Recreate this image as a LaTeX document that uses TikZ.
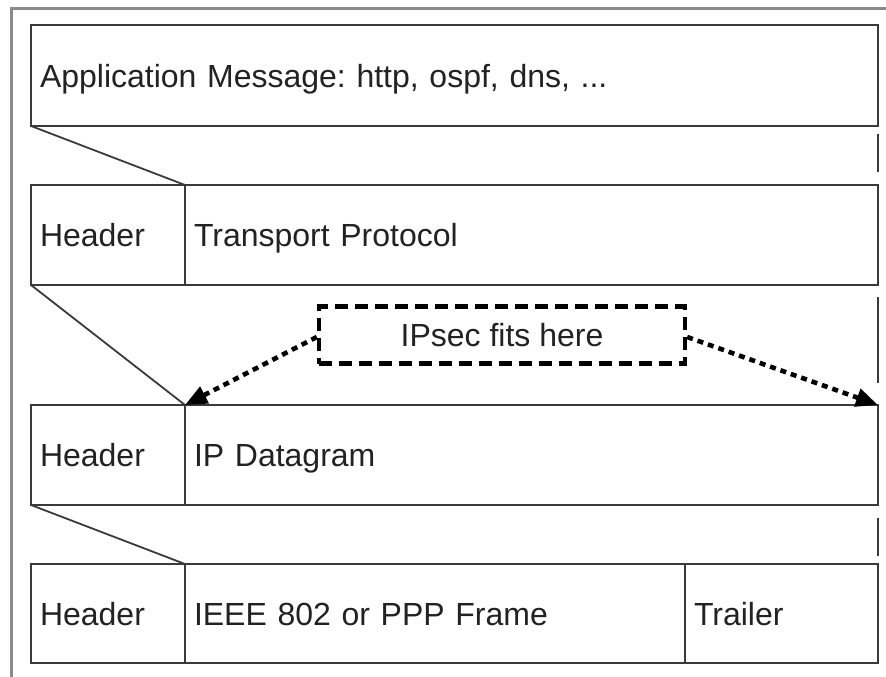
\documentclass[tikz,border=0pt]{standalone}
\usepackage{fontspec}
\setmainfont{Liberation Sans}
\usetikzlibrary{arrows.meta,calc}
\definecolor{boxline}{HTML}{3A3A3A}
\definecolor{framegray}{HTML}{8A8A8A}
\definecolor{txt}{HTML}{222222}
\tikzset{
    field/.style={draw=boxline,line width=1.8pt,minimum height=100pt,inner xsep=9pt,
        inner ysep=0pt,outer sep=0pt,anchor=north west,align=left,text=txt,
        text height=23pt,text depth=0pt},
    hdr/.style={field,text width=136pt},
    gap line/.style={draw=boxline,line width=1.8pt},
    ipsecbox/.style={draw=black,line width=4.4pt,dash pattern=on 13pt off 7pt,
        minimum width=366pt,minimum height=57pt,text=txt,text height=23pt,text depth=0pt},
    dotarrow/.style={black,line width=4.6pt,dash pattern=on 6pt off 5pt,
        -{Triangle[length=22pt,width=18pt]}}
}

\begin{document}
\begin{tikzpicture}[x=1pt,y=-1pt,font=\fontsize{32}{38}\selectfont\frenchspacing]
    \useasboundingbox (0,0) rectangle (886,677);
    \draw[framegray,line width=3pt] (11,677) -- (11,9) -- (886,9);

    \node[field,text width=829pt,minimum height=101pt] (app) at (31,25) {Application Message: http, ospf, dns, ...};

    \node[hdr] (hdrA) at (31,185) {Header};
    \node[field,text width=675pt] (tport) at (185,185) {Transport Protocol};

    \node[hdr] (hdrB) at (31,405) {Header};
    \node[field,text width=675pt] (ipdg) at (185,405) {IP Datagram};

    \node[hdr,minimum height=99pt] (hdrC) at (31,564) {Header};
    \node[field,text width=482pt,minimum height=99pt] (frame) at (185,564) {IEEE 802 or PPP Frame};
    \node[field,text width=175pt,minimum height=99pt] (trailer) at (685,564) {Trailer};

    \draw[gap line] (app.south west) -- (hdrA.north east);
    \draw[gap line] (hdrA.south west) -- (hdrB.north east);
    \draw[gap line] (hdrB.south west) -- (hdrC.north east);

    \draw[gap line] ([yshift=-8pt]app.south east) -- ([yshift=13pt]tport.north east);
    \draw[gap line] ([yshift=-12pt]tport.south east) -- ([yshift=22pt]ipdg.north east);
    \draw[gap line] ([yshift=-13pt]ipdg.south east) -- ([yshift=8pt]trailer.north east);

    \node[ipsecbox] (ipsec) at (502,335) {IPsec fits here};
    \draw[dotarrow] ([yshift=-2pt]ipsec.west) -- (ipdg.north west);
    \draw[dotarrow] ([yshift=-2pt]ipsec.east) -- (ipdg.north east);
\end{tikzpicture}
\end{document}
